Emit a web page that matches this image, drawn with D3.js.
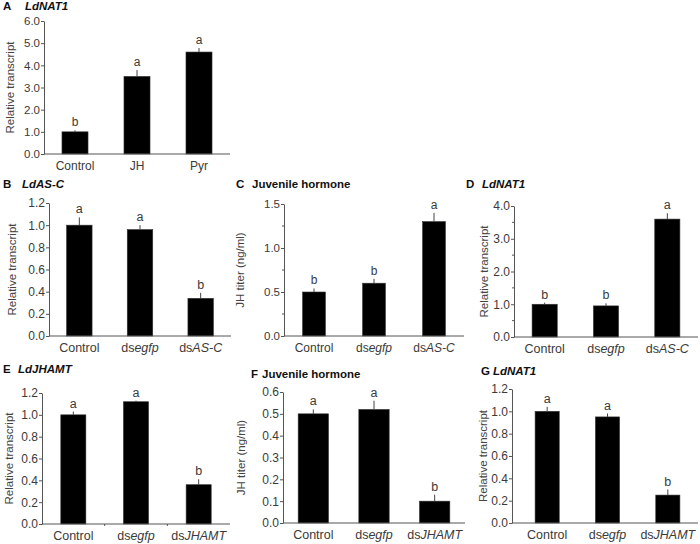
<!DOCTYPE html>
<html>
<head>
<meta charset="utf-8">
<script src="https://cdn.jsdelivr.net/npm/d3@7"></script>
<style>
  html, body { margin: 0; padding: 0; background: #fff; }
  svg { display: block; font-family: "Liberation Sans", Arial, sans-serif; }
</style>
</head>
<body>
<svg id="chart" width="700" height="544"></svg>
<script>
// ---------- DATA ----------
const panelIds = ["A", "B", "C", "D", "E", "F", "G"];
const panelTitles = ["LdNAT1", "LdAS-C", "Juvenile hormone", "LdNAT1", "LdJHAMT", "Juvenile hormone", "LdNAT1"];
const panelTitleItalic = [true, true, false, true, true, false, true];
const yTitles = ["Relative transcript", "Relative transcript", "JH titer (ng/ml)", "Relative transcript",
                 "Relative transcript", "JH titer (ng/ml)", "Relative transcript"];

const categoriesA = ["Control", "JH", "Pyr"];
const categoriesAS = ["Control", "dsegfp", "dsAS-C"];
const categoriesJHAMT = ["Control", "dsegfp", "dsJHAMT"];

const valuesA = [1.0, 3.5, 4.6];
const errorsA = [0.07, 0.29, 0.18];
const lettersA = ["b", "a", "a"];

const valuesB = [1.0, 0.96, 0.34];
const errorsB = [0.07, 0.04, 0.05];
const lettersB = ["a", "a", "b"];

const valuesC = [0.5, 0.6, 1.3];
const errorsC = [0.04, 0.05, 0.1];
const lettersC = ["b", "b", "a"];

const valuesD = [1.0, 0.95, 3.6];
const errorsD = [0.05, 0.08, 0.18];
const lettersD = ["b", "b", "a"];

const valuesE = [1.0, 1.12, 0.36];
const errorsE = [0.03, 0.01, 0.05];
const lettersE = ["a", "a", "b"];

const valuesF = [0.5, 0.52, 0.1];
const errorsF = [0.02, 0.04, 0.03];
const lettersF = ["a", "a", "b"];

const valuesG = [1.0, 0.95, 0.25];
const errorsG = [0.04, 0.03, 0.05];
const lettersG = ["a", "a", "b"];

const yMaxes = [6.0, 1.2, 1.5, 4.0, 1.2, 0.6, 1.2];
const yTickSteps = [1.0, 0.2, 0.5, 1.0, 0.2, 0.1, 0.2];
const yMinorSteps = [null, null, 0.25, 0.5, null, null, null];

// ---------- LAYOUT (positions only) ----------
const layout = [
  { x0: 44,  x1: 230, bandStart: 44,  yTop: 21,  yBot: 154, pad: 0.58, titleY: 10,  titleX: 3,   titleGap: 22, yLabX: 11,  xTicks: false, fs: 11.5 },
  { x0: 49,  x1: 231, bandStart: 49,  yTop: 203, yBot: 336, pad: 0.58, titleY: 188, titleX: 3,   titleGap: 19, yLabX: 13,  xTicks: false, fs: 12 },
  { x0: 284, x1: 464, bandStart: 284, yTop: 204, yBot: 336, pad: 0.62, titleY: 188, titleX: 236, titleGap: 16, yLabX: 241, xTicks: false, fs: 11.5 },
  { x0: 514, x1: 698, bandStart: 514, yTop: 206, yBot: 337, pad: 0.59, titleY: 188, titleX: 466, titleGap: 16, yLabX: 485, xTicks: false, fs: 12 },
  { x0: 42,  x1: 230, bandStart: 42,  yTop: 393, yBot: 524, pad: 0.60, titleY: 373, titleX: 3,   titleGap: 15, yLabX: 10,  xTicks: true,  fs: 12 },
  { x0: 283, x1: 465, bandStart: 283, yTop: 392, yBot: 523, pad: 0.50, titleY: 378, titleX: 251, titleGap: 11, yLabX: 242, xTicks: false, fs: 12 },
  { x0: 512, x1: 698, bandStart: 517, yTop: 389, yBot: 523, pad: 0.60, titleY: 375, titleX: 481, titleGap: 12, yLabX: 484, xTicks: false, fs: 12 }
];

const panelData = [
  { cats: categoriesA,     vals: valuesA, errs: errorsA, letters: lettersA },
  { cats: categoriesAS,    vals: valuesB, errs: errorsB, letters: lettersB },
  { cats: categoriesAS,    vals: valuesC, errs: errorsC, letters: lettersC },
  { cats: categoriesAS,    vals: valuesD, errs: errorsD, letters: lettersD },
  { cats: categoriesJHAMT, vals: valuesE, errs: errorsE, letters: lettersE },
  { cats: categoriesJHAMT, vals: valuesF, errs: errorsF, letters: lettersF },
  { cats: categoriesJHAMT, vals: valuesG, errs: errorsG, letters: lettersG }
];

const textColor = "#3a3a3a";
const axisColor = "#555";
const svg = d3.select("#chart");

panelIds.forEach((id, i) => {
  const L = layout[i];
  const D = panelData[i];
  const g = svg.append("g");

  const x = d3.scaleBand().domain(D.cats).range([L.bandStart, L.x1]).paddingInner(L.pad).paddingOuter(L.pad / 2);
  const y = d3.scaleLinear().domain([0, yMaxes[i]]).range([L.yBot, L.yTop]);

  // Title
  const t = g.append("text").attr("x", L.titleX).attr("y", L.titleY)
    .attr("font-size", 11.5).attr("font-weight", "bold").attr("fill", "#111");
  t.append("tspan").text(id);
  t.append("tspan").attr("x", L.titleX + L.titleGap)
    .attr("font-style", panelTitleItalic[i] ? "italic" : "normal").text(panelTitles[i]);

  // Y axis
  const step = yTickSteps[i];
  const nT = Math.round(yMaxes[i] / step);
  const ticks = d3.range(nT + 1).map(k => +(k * step).toFixed(4));
  const yAxis = d3.axisLeft(y).tickValues(ticks).tickFormat(d3.format(".1f")).tickSize(3).tickSizeOuter(0);
  const ya = g.append("g").attr("transform", `translate(${L.x0},0)`).call(yAxis);
  ya.select(".domain").attr("stroke", axisColor);
  ya.selectAll(".tick line").attr("stroke", axisColor);
  ya.selectAll(".tick text").attr("fill", textColor).attr("font-size", L.fs)
    .attr("font-family", "Liberation Sans, Arial, sans-serif").attr("x", -4);

  if (yMinorSteps[i]) {
    const ms = yMinorSteps[i];
    const nm = Math.round(yMaxes[i] / ms);
    const minors = d3.range(nm + 1).map(k => +(k * ms).toFixed(4)).filter(v => !ticks.some(tv => Math.abs(tv - v) < 1e-6));
    g.selectAll(".minor").data(minors).enter().append("line")
      .attr("x1", L.x0 - 2).attr("x2", L.x0)
      .attr("y1", d => y(d)).attr("y2", d => y(d))
      .attr("stroke", axisColor);
  }

  // Y title
  g.append("text")
    .attr("transform", `translate(${L.yLabX},${(L.yTop + L.yBot) / 2}) rotate(-90)`)
    .attr("text-anchor", "middle").attr("dominant-baseline", "middle")
    .attr("font-size", 11.5).attr("fill", "#444").text(yTitles[i]);

  // Bars
  g.selectAll(".bar").data(D.cats).enter().append("rect")
    .attr("x", d => x(d)).attr("width", x.bandwidth())
    .attr("y", (d, k) => y(D.vals[k]))
    .attr("height", (d, k) => L.yBot - y(D.vals[k]))
    .attr("fill", "#000").attr("stroke", "#333").attr("stroke-width", 0.6);

  // Error bars (upper)
  g.selectAll(".err").data(D.cats).enter().append("line")
    .attr("x1", d => x(d) + x.bandwidth() / 2).attr("x2", d => x(d) + x.bandwidth() / 2)
    .attr("y1", (d, k) => y(D.vals[k]))
    .attr("y2", (d, k) => y(D.vals[k] + D.errs[k]))
    .attr("stroke", "#444").attr("stroke-width", 1);

  // Letters
  g.selectAll(".let").data(D.cats).enter().append("text")
    .attr("x", d => x(d) + x.bandwidth() / 2)
    .attr("y", (d, k) => y(D.vals[k] + D.errs[k]) - 4)
    .attr("text-anchor", "middle").attr("font-size", L.fs + 0.5).attr("fill", textColor)
    .text((d, k) => D.letters[k]);

  // X axis line
  g.append("line").attr("x1", L.x0).attr("x2", L.x1).attr("y1", L.yBot).attr("y2", L.yBot)
    .attr("stroke", axisColor);

  if (L.xTicks) {
    const bounds = D.cats.slice(1).map(c => x(c) - x.step() * x.paddingInner() / 2);
    g.selectAll(".xt").data(bounds).enter().append("line")
      .attr("x1", d => d).attr("x2", d => d).attr("y1", L.yBot).attr("y2", L.yBot + 2)
      .attr("stroke", axisColor);
  }

  // X category labels
  D.cats.forEach(c => {
    const tx = g.append("text").attr("x", x(c) + x.bandwidth() / 2).attr("y", L.yBot + 16)
      .attr("text-anchor", "middle").attr("font-size", L.fs + 0.5).attr("fill", textColor);
    if (c.startsWith("ds")) {
      tx.append("tspan").text("ds");
      tx.append("tspan").attr("font-style", "italic").text(c.slice(2));
    } else {
      tx.text(c);
    }
  });
});
</script>
</body>
</html>
